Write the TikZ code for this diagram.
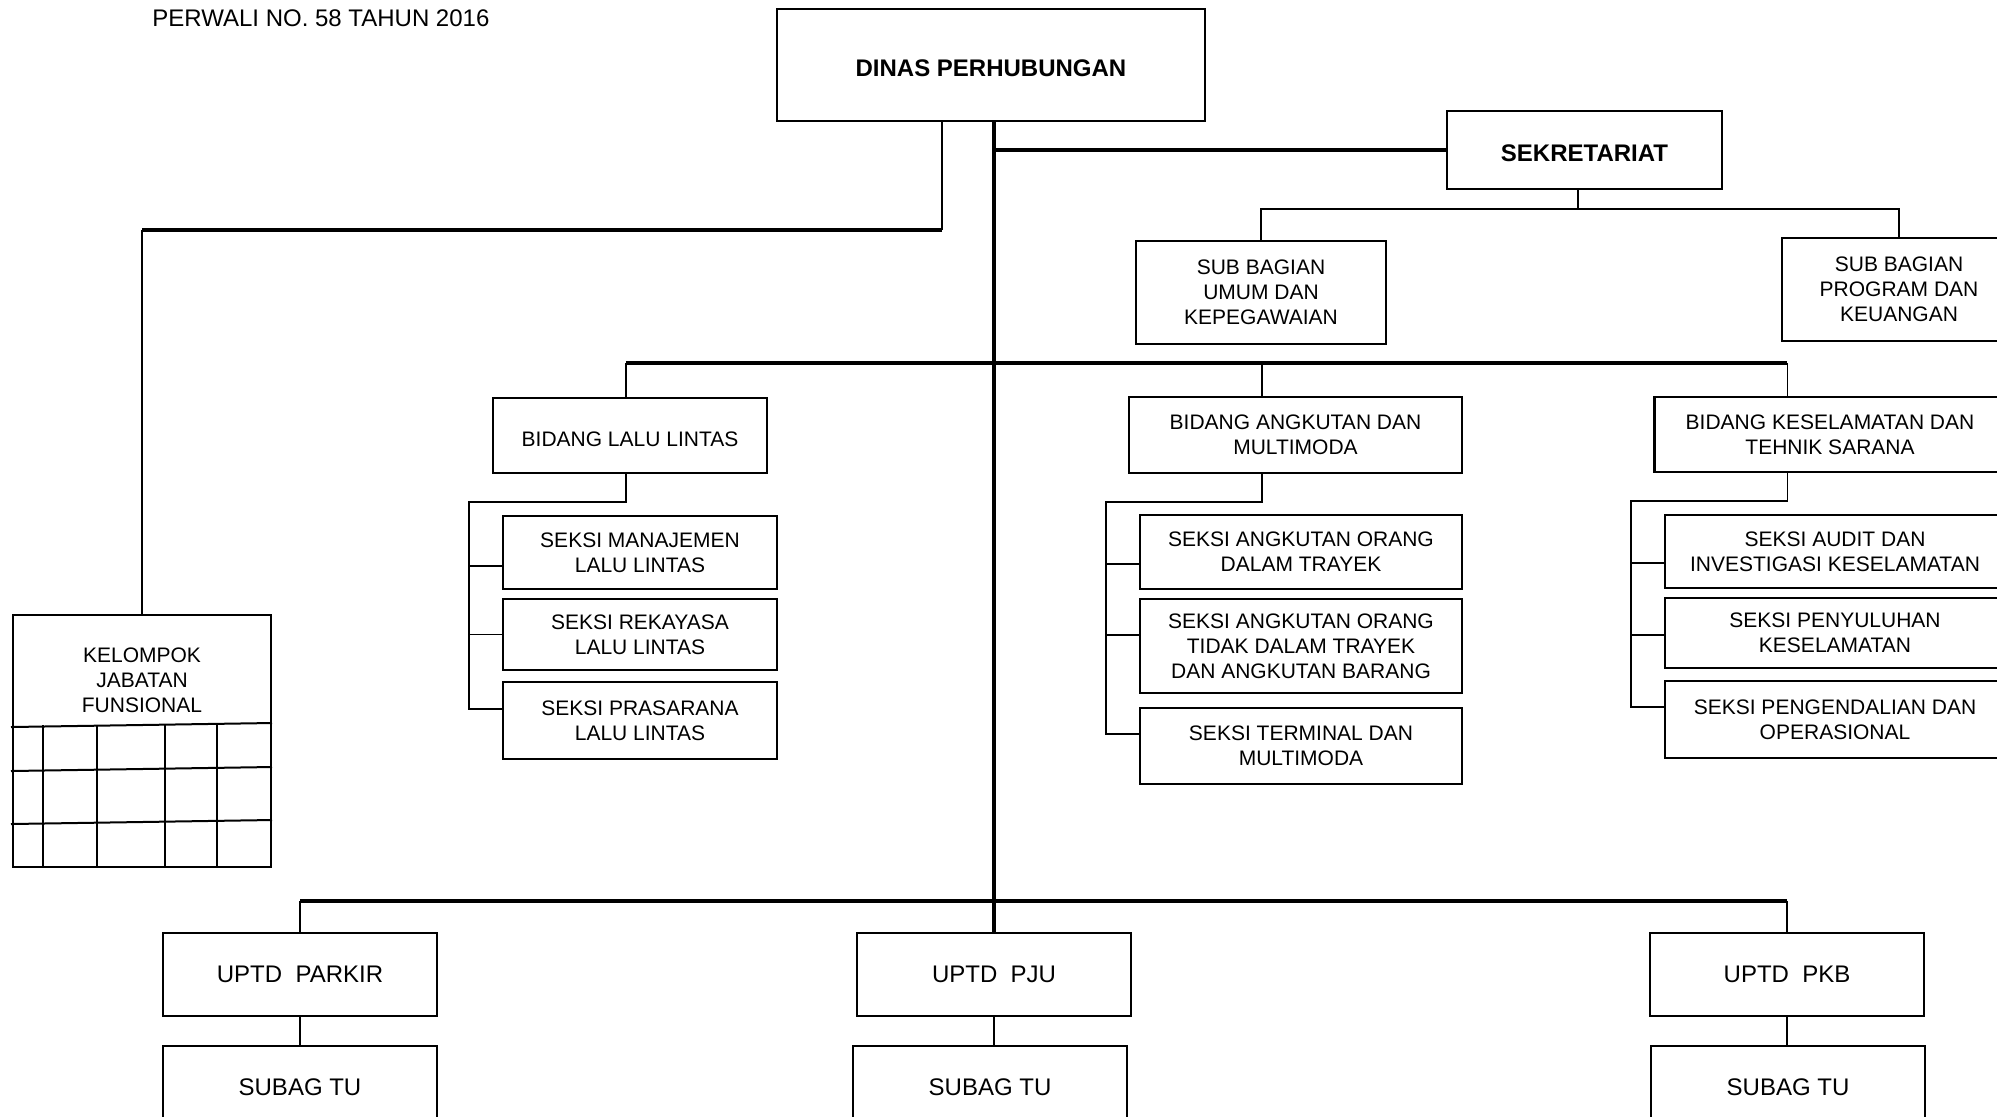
\documentclass[tikz,border=0pt]{standalone}
\usepackage{fontspec}
\setmainfont{Liberation Sans}
\tikzset{
  kotak/.style={draw, line width=1.1pt, align=center, inner sep=0pt, font=\fontsize{10.5}{12.5}\selectfont},
  kotakutama/.style={kotak, text height=11.6pt, text depth=0pt, font=\bfseries\fontsize{12}{14}\selectfont},
  kotakuptd/.style={kotak, minimum width=137pt, minimum height=41.5pt, font=\fontsize{12}{14}\selectfont},
  garis/.style={line width=0.9pt},
  garistebal/.style={line width=1.75pt}
}
\begin{document}
\begin{tikzpicture}[x=0.5pt,y=-0.5pt]
  \useasboundingbox (0,0) rectangle (1997,1116);
  \clip (0,0) rectangle (1997,1116);

  \node[anchor=west, inner sep=0pt, font=\fontsize{12}{14}\selectfont] (judul) at (152,18) {PERWALI NO. 58 TAHUN 2016};

  % pimpinan dan sekretariat
  \node[kotakutama, minimum width=214pt, minimum height=56pt] (dinas) at (991,65) {DINAS PERHUBUNGAN};
  \node[kotakutama, minimum width=137.5pt, minimum height=39pt] (sekretariat) at (1584.5,150) {SEKRETARIAT};
  \node[kotak, minimum width=125pt, minimum height=51.5pt] (umum) at (1261,292.5) {SUB BAGIAN\\UMUM DAN\\KEPEGAWAIAN};
  \node[kotak, minimum width=117pt, minimum height=51.5pt] (program) at (1899,289.5) {SUB BAGIAN\\PROGRAM DAN\\KEUANGAN};

  % kelompok jabatan fungsional
  \node[kotak, minimum width=129pt, minimum height=126pt] (jafung) at (142,741) {};
  \node[align=center, inner sep=0pt, font=\fontsize{10.5}{12.5}\selectfont] (jafungteks) at (142,680) {KELOMPOK\\JABATAN\\FUNSIONAL};
  \foreach \y/\z in {727/723, 771/767, 824/820}
    \draw[line width=1pt] (11,\y) -- (272,\z);
  \foreach \x in {43,97,165,217}
    \draw[line width=1pt] (\x,725) -- (\x,867);

  % bidang
  \node[kotak, text height=10.5pt, text depth=0pt, minimum width=137pt, minimum height=37.5pt] (bidlalin) at (630,435.5) {BIDANG LALU LINTAS};
  \node[kotak, minimum width=166.5pt, minimum height=38pt] (bidangkutan) at (1295.5,435) {BIDANG ANGKUTAN DAN\\MULTIMODA};
  \node[kotak, minimum width=175.5pt, minimum height=37.5pt] (bidkeselamatan) at (1830,434.5) {BIDANG KESELAMATAN DAN\\TEHNIK SARANA};

  % seksi
  \node[kotak, minimum width=137pt, minimum height=36.5pt] (manajemen) at (640,552.5) {SEKSI MANAJEMEN\\LALU LINTAS};
  \node[kotak, minimum width=137pt, minimum height=35.5pt] (rekayasa) at (640,634.5) {SEKSI REKAYASA\\LALU LINTAS};
  \node[kotak, minimum width=137pt, minimum height=38.5pt] (prasarana) at (640,720.5) {SEKSI PRASARANA\\LALU LINTAS};

  \node[kotak, minimum width=161pt, minimum height=37pt] (dalamtrayek) at (1301,552) {SEKSI ANGKUTAN ORANG\\DALAM TRAYEK};
  \node[kotak, minimum width=161pt, minimum height=47pt] (tidaktrayek) at (1301,646) {SEKSI ANGKUTAN ORANG\\TIDAK DALAM TRAYEK\\DAN ANGKUTAN BARANG};
  \node[kotak, minimum width=161pt, minimum height=38pt] (terminal) at (1301,746) {SEKSI TERMINAL DAN\\MULTIMODA};

  \node[kotak, minimum width=170pt, minimum height=36.5pt] (audit) at (1835,551.5) {SEKSI AUDIT DAN\\INVESTIGASI KESELAMATAN};
  \node[kotak, minimum width=170pt, minimum height=35pt] (penyuluhan) at (1835,633) {SEKSI PENYULUHAN\\KESELAMATAN};
  \node[kotak, minimum width=170pt, minimum height=38.5pt] (pengendalian) at (1835,719.5) {SEKSI PENGENDALIAN DAN\\OPERASIONAL};

  % uptd
  \node[kotakuptd] (parkir) at (300,974.5) {UPTD~~PARKIR};
  \node[kotakuptd] (pju) at (994,974.5) {UPTD~~PJU};
  \node[kotakuptd] (pkb) at (1787,974.5) {UPTD~~PKB};
  \node[kotakuptd] (subag1) at (300,1087.5) {SUBAG TU};
  \node[kotakuptd] (subag2) at (990,1087.5) {SUBAG TU};
  \node[kotakuptd] (subag3) at (1788,1087.5) {SUBAG TU};

  % garis komando
  \draw[garistebal] (dinas.south -| pju.north) -- (pju.north);
  \draw[garistebal] (sekretariat.west) -- (sekretariat.west -| pju.north);

  \coordinate (belok) at (942,230);
  \draw[garis] (belok |- dinas.south) -- (belok);
  \draw[garistebal] (belok) -- (belok -| jafung.north);
  \draw[garis] (belok -| jafung.north) -- (jafung.north);

  \coordinate (sek) at (1578,209);
  \draw[garis] (sek |- sekretariat.south) -- (sek);
  \draw[garis] (umum.north) |- (sek) -| (program.north);

  \foreach \bid in {bidlalin,bidangkutan,bidkeselamatan}{
    \coordinate (\bid-atas) at ([xshift=67pt]\bid.north west);
    \coordinate (\bid-bawah) at ([xshift=67pt]\bid.south west);
  }
  \coordinate (palang) at (994,363);
  \draw[garistebal] (bidlalin-atas |- palang) -- (bidkeselamatan-atas |- palang);
  \foreach \bid in {bidlalin,bidangkutan,bidkeselamatan}
    \draw[garis] (\bid-atas |- palang) -- (\bid-atas);

  % lalu lintas
  \draw[garis] (bidlalin-bawah) -- ++(0,-14pt) -| ([xshift=-16.5pt,yshift=5.75pt]prasarana.west) -- ([yshift=5.75pt]prasarana.west);
  \draw[garis] ([yshift=-6.75pt]manajemen.west) -- ++(-16.5pt,0);
  \draw[garis] (rekayasa.west) -- ++(-16.5pt,0);
  % angkutan
  \draw[garis] (bidangkutan-bawah) -- ++(0,-14pt) -| ([xshift=-16.5pt,yshift=6pt]terminal.west) -- ([yshift=6pt]terminal.west);
  \draw[garis] ([yshift=-6pt]dalamtrayek.west) -- ++(-16.5pt,0);
  \draw[garis] ([yshift=5.5pt]tidaktrayek.west) -- ++(-16.5pt,0);
  % keselamatan
  \draw[garis] (bidkeselamatan-bawah) -- ++(0,-14pt) -| ([xshift=-16.5pt,yshift=6.25pt]pengendalian.west) -- ([yshift=6.25pt]pengendalian.west);
  \draw[garis] ([yshift=-5.75pt]audit.west) -- ++(-16.5pt,0);
  \draw[garis] ([yshift=-1pt]penyuluhan.west) -- ++(-16.5pt,0);

  % uptd
  \coordinate (palangbawah) at (994,901);
  \draw[garistebal] (parkir.north |- palangbawah) -- (pkb.north |- palangbawah);
  \draw[garis] (parkir.north |- palangbawah) -- (parkir.north);
  \draw[garis] (pkb.north |- palangbawah) -- (pkb.north);
  \draw[garis] (parkir.south) -- (subag1.north);
  \draw[garis] (pju.south) -- (pju.south |- subag2.north);
  \draw[garis] (pkb.south) -- (pkb.south |- subag3.north);
\end{tikzpicture}
\end{document}
